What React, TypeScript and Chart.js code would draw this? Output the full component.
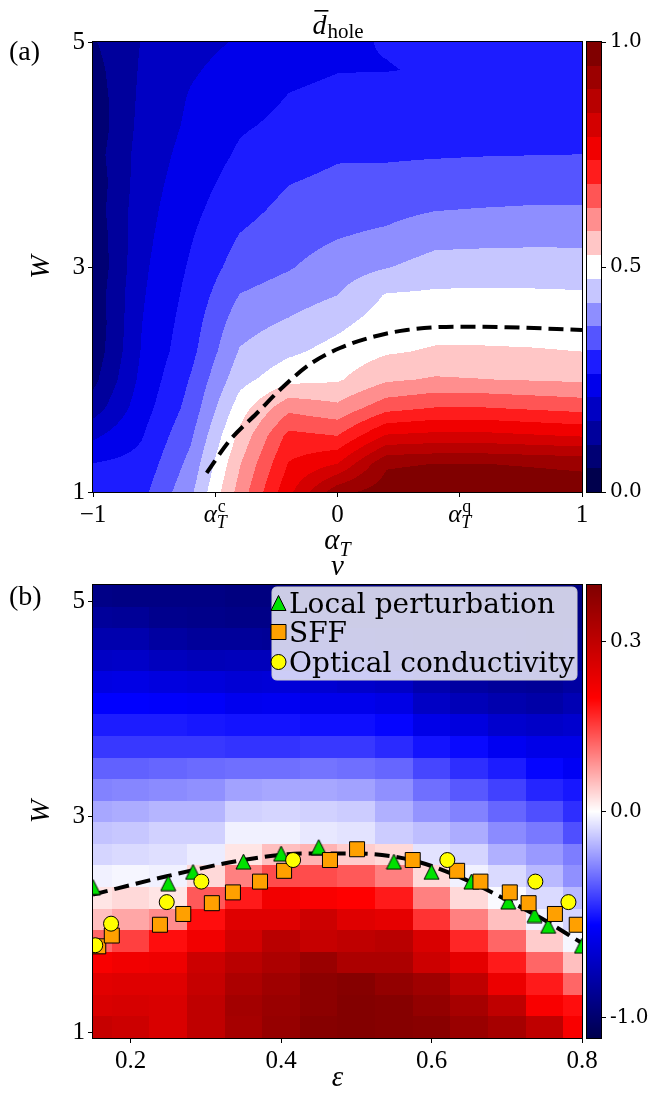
import React, { useEffect, useRef } from "react";
import { Chart, registerables } from "chart.js";

Chart.register(...registerables);

// ================= Panel (a): mean hole density (filled contour) =================
const alphaValues = [-1, -0.8, -0.6, -0.4, -0.2, 0, 0.2, 0.4, 0.6, 0.8, 1];
const wValuesA = [1, 1.25, 1.5, 1.75, 2, 2.25, 2.5, 2.75, 3, 3.25, 3.5, 3.75, 4, 4.25, 4.5, 4.75, 5];
// d_hole along W (W = 1 ... 5) for each alpha_T column
const dHoleAlphaM10 = [0.29, 0.265, 0.2, 0.13, 0.09, 0.07, 0.065, 0.07, 0.06, 0.065, 0.075, 0.07, 0.08, 0.07, 0.075, 0.085, 0.1];
const dHoleAlphaM08 = [0.3, 0.28, 0.26, 0.24, 0.225, 0.215, 0.21, 0.205, 0.2, 0.195, 0.19, 0.185, 0.18, 0.175, 0.17, 0.165, 0.16];
const dHoleAlphaM06 = [0.41, 0.385, 0.36, 0.335, 0.32, 0.3, 0.29, 0.28, 0.27, 0.26, 0.25, 0.24, 0.23, 0.22, 0.215, 0.205, 0.195];
const dHoleAlphaM04 = [0.6, 0.575, 0.54, 0.5, 0.455, 0.425, 0.4, 0.37, 0.34, 0.32, 0.3, 0.285, 0.27, 0.258, 0.245, 0.23, 0.215];
const dHoleAlphaM02 = [0.775, 0.74, 0.7, 0.616, 0.51, 0.463, 0.428, 0.394, 0.364, 0.347, 0.33, 0.314, 0.293, 0.274, 0.265, 0.255, 0.25];
const dHoleAlphaP00 = [0.93, 0.79, 0.684, 0.592, 0.52, 0.493, 0.461, 0.421, 0.395, 0.368, 0.348, 0.328, 0.31, 0.285, 0.272, 0.262, 0.258];
const dHoleAlphaP02 = [0.975, 0.94, 0.795, 0.665, 0.57, 0.52, 0.5, 0.478, 0.418, 0.38, 0.355, 0.33, 0.31, 0.292, 0.282, 0.262, 0.265];
const dHoleAlphaP04 = [0.99, 0.948, 0.805, 0.685, 0.585, 0.532, 0.505, 0.482, 0.445, 0.405, 0.368, 0.337, 0.312, 0.298, 0.288, 0.266, 0.27];
const dHoleAlphaP06 = [0.99, 0.948, 0.805, 0.685, 0.58, 0.532, 0.505, 0.483, 0.447, 0.408, 0.372, 0.34, 0.314, 0.3, 0.29, 0.282, 0.278];
const dHoleAlphaP08 = [0.985, 0.942, 0.795, 0.675, 0.575, 0.53, 0.503, 0.482, 0.447, 0.41, 0.375, 0.343, 0.315, 0.302, 0.292, 0.285, 0.28];
const dHoleAlphaP10 = [0.98, 0.935, 0.785, 0.665, 0.57, 0.526, 0.5, 0.48, 0.445, 0.41, 0.375, 0.345, 0.316, 0.302, 0.292, 0.286, 0.282];
const dHoleColumns = [
  dHoleAlphaM10, dHoleAlphaM08, dHoleAlphaM06, dHoleAlphaM04, dHoleAlphaM02, dHoleAlphaP00,
  dHoleAlphaP02, dHoleAlphaP04, dHoleAlphaP06, dHoleAlphaP08, dHoleAlphaP10,
];
const contourBands = 19;
const cbTicksA = [0, 0.5, 1];
const xTicksA = [-1, -0.5, 0, 0.5, 1];
const xTickBaseA = ["−1", "α", "0", "α", "1"];
const xTickSubA = ["", "T", "", "T", ""];
const xTickSupA = ["", "c", "", "q", ""];
const yTicksA = [1, 3, 5];
// dashed critical line
const critAlpha = [-0.535, -0.44, -0.33, -0.22, -0.11, 0.01, 0.146, 0.283, 0.487, 0.692, 1.0];
const critW = [1.17, 1.46, 1.7, 1.94, 2.14, 2.28, 2.38, 2.44, 2.47, 2.465, 2.44];

// ================= Panel (b): nu heat map =================
const epsValues = [0.15, 0.2, 0.25, 0.3, 0.35, 0.4, 0.45, 0.5, 0.55, 0.6, 0.65, 0.7, 0.75, 0.8];
const wValuesB = [1.05, 1.25, 1.45, 1.65, 1.85, 2.05, 2.25, 2.45, 2.65, 2.85, 3.05, 3.25, 3.45, 3.65, 3.85, 4.05, 4.25, 4.45, 4.65, 4.85, 5.05];
const nuEps015 = [0.29, 0.26, 0.245, 0.21, 0.12, 0.05, 0.02, -0.03, -0.09, -0.13, -0.19, -0.27, -0.34, -0.43, -0.49, -0.55, -0.64, -0.73, -0.8, -0.86, -0.92];
const nuEps020 = [0.28, 0.265, 0.25, 0.22, 0.15, 0.07, 0.03, -0.02, -0.08, -0.12, -0.18, -0.26, -0.34, -0.43, -0.49, -0.55, -0.63, -0.72, -0.8, -0.87, -0.93];
const nuEps025 = [0.26, 0.26, 0.25, 0.225, 0.19, 0.09, 0.02, -0.03, -0.07, -0.1, -0.16, -0.25, -0.33, -0.43, -0.49, -0.56, -0.65, -0.75, -0.84, -0.9, -0.93];
const nuEps030 = [0.3, 0.3, 0.29, 0.28, 0.22, 0.19, 0.13, 0.03, -0.04, -0.1, -0.16, -0.24, -0.32, -0.43, -0.5, -0.57, -0.66, -0.77, -0.86, -0.91, -0.93];
const nuEps035 = [0.34, 0.345, 0.33, 0.31, 0.27, 0.25, 0.18, 0.1, 0.02, -0.03, -0.1, -0.2, -0.31, -0.44, -0.51, -0.6, -0.68, -0.76, -0.86, -0.92, -0.94];
const nuEps040 = [0.365, 0.36, 0.35, 0.33, 0.31, 0.25, 0.22, 0.14, 0.05, -0.03, -0.09, -0.19, -0.31, -0.44, -0.51, -0.59, -0.67, -0.76, -0.87, -0.92, -0.94];
const nuEps045 = [0.39, 0.38, 0.38, 0.36, 0.29, 0.28, 0.21, 0.14, 0.06, -0.05, -0.1, -0.19, -0.3, -0.43, -0.52, -0.61, -0.69, -0.78, -0.86, -0.91, -0.93];
const nuEps050 = [0.395, 0.395, 0.39, 0.33, 0.3, 0.25, 0.2, 0.13, 0.04, -0.06, -0.11, -0.2, -0.31, -0.43, -0.52, -0.61, -0.71, -0.8, -0.88, -0.92, -0.94];
const nuEps055 = [0.39, 0.39, 0.37, 0.33, 0.31, 0.24, 0.18, 0.1, 0.03, -0.11, -0.17, -0.24, -0.33, -0.46, -0.54, -0.63, -0.73, -0.82, -0.89, -0.92, -0.94];
const nuEps060 = [0.385, 0.37, 0.35, 0.28, 0.26, 0.16, 0.1, 0.03, -0.06, -0.14, -0.23, -0.31, -0.4, -0.51, -0.62, -0.73, -0.8, -0.86, -0.9, -0.92, -0.94];
const nuEps065 = [0.36, 0.34, 0.3, 0.24, 0.17, 0.1, 0.03, -0.03, -0.09, -0.18, -0.27, -0.36, -0.45, -0.53, -0.65, -0.77, -0.84, -0.88, -0.91, -0.93, -0.94];
const nuEps070 = [0.34, 0.3, 0.23, 0.18, 0.12, 0.05, -0.01, -0.08, -0.17, -0.25, -0.33, -0.41, -0.49, -0.59, -0.7, -0.8, -0.86, -0.89, -0.91, -0.93, -0.94];
const nuEps075 = [0.3, 0.21, 0.18, 0.12, 0.04, -0.03, -0.08, -0.15, -0.22, -0.29, -0.38, -0.47, -0.54, -0.62, -0.72, -0.82, -0.87, -0.9, -0.92, -0.93, -0.94];
const nuEps080 = [0.21, 0.19, 0.12, 0.05, -0.02, -0.09, -0.15, -0.24, -0.28, -0.38, -0.45, -0.5, -0.58, -0.62, -0.7, -0.78, -0.84, -0.88, -0.91, -0.93, -0.94];
const nuColumns = [
  nuEps015, nuEps020, nuEps025, nuEps030, nuEps035, nuEps040, nuEps045,
  nuEps050, nuEps055, nuEps060, nuEps065, nuEps070, nuEps075, nuEps080,
];
const nuNormMin = -1.1;
const nuNormCenter = 0;
const nuNormMax = 0.4;
const cbTicksB = [-1.0, 0.0, 0.3];
const xRangeB = [0.15, 0.8];
const yRangeB = [0.95, 5.15];
const xTicksB = [0.2, 0.4, 0.6, 0.8];
const yTicksB = [1, 3, 5];

const localPertEps = [0.15, 0.25, 0.283, 0.35, 0.4, 0.45, 0.55, 0.6, 0.653, 0.702, 0.737, 0.755, 0.8];
const localPertW = [2.35, 2.385, 2.49, 2.585, 2.66, 2.72, 2.585, 2.49, 2.4, 2.215, 2.09, 1.99, 1.806];
const sffEps = [0.157, 0.175, 0.239, 0.27, 0.308, 0.336, 0.372, 0.404, 0.465, 0.501, 0.575, 0.634, 0.665, 0.704, 0.729, 0.764, 0.793];
const sffW = [1.8, 1.9, 2.0, 2.1, 2.2, 2.3, 2.4, 2.5, 2.6, 2.7, 2.6, 2.5, 2.4, 2.3, 2.2, 2.1, 2.0];
const optEps = [0.153, 0.174, 0.248, 0.294, 0.416, 0.621, 0.738, 0.782];
const optW = [1.81, 2.01, 2.21, 2.4, 2.6, 2.6, 2.4, 2.21];
const boundaryEps = [0.15, 0.248, 0.35, 0.43, 0.5, 0.573, 0.635, 0.7, 0.746, 0.8];
const boundaryW = [2.28, 2.45, 2.6, 2.66, 2.66, 2.6, 2.45, 2.23, 2.06, 1.83];
const legendLabels = ["Local perturbation", "SFF", "Optical conductivity"];

// ================= helpers =================
const SERIF = '"Liberation Serif", "Times New Roman", serif';
const DVSERIF = '"DejaVu Serif", serif';
const GREEN = "rgb(0,225,0)";
const ORANGE = "rgb(255,160,0)";
const YELLOW = "rgb(255,255,0)";

function seismic(t: number): [number, number, number] {
  const u = Math.min(1, Math.max(0, t));
  if (u < 0.25) { const s = u / 0.25; return [0, 0, 255 * (0.3 + 0.7 * s)]; }
  if (u < 0.5) { const s = (u - 0.25) / 0.25; return [255 * s, 255 * s, 255]; }
  if (u < 0.75) { const s = (u - 0.5) / 0.25; return [255, 255 * (1 - s), 255 * (1 - s)]; }
  const s = (u - 0.75) / 0.25;
  return [255 * (1 - 0.5 * s), 0, 0];
}
function rgb(c: [number, number, number]) {
  return `rgb(${Math.round(c[0])},${Math.round(c[1])},${Math.round(c[2])})`;
}
function normNu(v: number) {
  return v < nuNormCenter
    ? 0.5 * (v - nuNormMin) / (nuNormCenter - nuNormMin)
    : 0.5 + 0.5 * (v - nuNormCenter) / (nuNormMax - nuNormCenter);
}
function fracIndex(arr: number[], v: number) {
  const n = arr.length;
  if (v <= arr[0]) return 0;
  if (v >= arr[n - 1]) return n - 1;
  let i = 0;
  while (i < n - 2 && arr[i + 1] <= v) i++;
  return i + (v - arr[i]) / (arr[i + 1] - arr[i]);
}
function cellEdges(centers: number[], i: number): [number, number] {
  const lo = i === 0 ? centers[0] - (centers[1] - centers[0]) / 2 : (centers[i - 1] + centers[i]) / 2;
  const n = centers.length;
  const hi = i === n - 1 ? centers[n - 1] + (centers[n - 1] - centers[n - 2]) / 2 : (centers[i] + centers[i + 1]) / 2;
  return [lo, hi];
}
function makeTriangle(size: number, fill: string) {
  const c = document.createElement("canvas");
  const s = size + 2;
  c.width = s; c.height = s;
  const g = c.getContext("2d")!;
  g.beginPath();
  g.moveTo(s / 2, 1);
  g.lineTo(s - 1, s - 1);
  g.lineTo(1, s - 1);
  g.closePath();
  g.fillStyle = fill; g.fill();
  g.lineWidth = 1; g.strokeStyle = "#000"; g.stroke();
  return c;
}

const framePlugin = {
  id: "frame",
  afterDatasetsDraw(chart: any) {
    const { ctx, chartArea: ca } = chart;
    ctx.save();
    ctx.strokeStyle = "#000";
    ctx.lineWidth = 1;
    ctx.strokeRect(Math.round(ca.left) - 0.5, Math.round(ca.top) - 0.5, Math.round(ca.right - ca.left) + 1, Math.round(ca.bottom - ca.top) + 1);
    ctx.restore();
  },
};

const contourPlugin = {
  id: "contourA",
  beforeDatasetsDraw(chart: any) {
    const { ctx, chartArea: ca, scales } = chart;
    const xs = scales.x, ys = scales.y;
    const w = Math.round(ca.right - ca.left), h = Math.round(ca.bottom - ca.top);
    const off = document.createElement("canvas");
    off.width = w; off.height = h;
    const octx = off.getContext("2d")!;
    const img = octx.createImageData(w, h);
    const colors = Array.from({ length: contourBands }, (_, i) => seismic(i / (contourBands - 1)));
    const fxs = new Float64Array(w);
    for (let i = 0; i < w; i++) fxs[i] = fracIndex(alphaValues, xs.getValueForPixel(ca.left + i + 0.5));
    const nA = alphaValues.length, nW = wValuesA.length;
    for (let j = 0; j < h; j++) {
      const fy = fracIndex(wValuesA, ys.getValueForPixel(ca.top + j + 0.5));
      const j0 = Math.min(Math.floor(fy), nW - 2);
      const ty = fy - j0;
      for (let i = 0; i < w; i++) {
        const fx = fxs[i];
        const i0 = Math.min(Math.floor(fx), nA - 2);
        const tx = fx - i0;
        const c0 = dHoleColumns[i0], c1 = dHoleColumns[i0 + 1];
        const v = (1 - tx) * ((1 - ty) * c0[j0] + ty * c0[j0 + 1]) + tx * ((1 - ty) * c1[j0] + ty * c1[j0 + 1]);
        const b = Math.max(0, Math.min(contourBands - 1, Math.floor(v * contourBands)));
        const col = colors[b];
        const k = (j * w + i) * 4;
        img.data[k] = col[0]; img.data[k + 1] = col[1]; img.data[k + 2] = col[2]; img.data[k + 3] = 255;
      }
    }
    octx.putImageData(img, 0, 0);
    ctx.drawImage(off, Math.round(ca.left), Math.round(ca.top));
  },
};

const heatmapPlugin = {
  id: "heatmapB",
  beforeDatasetsDraw(chart: any) {
    const { ctx, chartArea: ca, scales } = chart;
    ctx.save();
    ctx.beginPath();
    ctx.rect(ca.left, ca.top, ca.right - ca.left, ca.bottom - ca.top);
    ctx.clip();
    for (let ci = 0; ci < epsValues.length; ci++) {
      const [elo, ehi] = cellEdges(epsValues, ci);
      const x0 = Math.round(scales.x.getPixelForValue(elo));
      const x1 = Math.round(scales.x.getPixelForValue(ehi));
      for (let ri = 0; ri < wValuesB.length; ri++) {
        const [wlo, whi] = cellEdges(wValuesB, ri);
        const y0 = Math.round(scales.y.getPixelForValue(whi));
        const y1 = Math.round(scales.y.getPixelForValue(wlo));
        ctx.fillStyle = rgb(seismic(normNu(nuColumns[ci][ri])));
        ctx.fillRect(x0, y0, x1 - x0, y1 - y0);
      }
    }
    ctx.restore();
  },
};

function drawScripted(ctx: CanvasRenderingContext2D, base: string, sub: string, sup: string, cx: number, baseline: number, size: number, italicBase: boolean) {
  const scr = Math.round(size * 0.7);
  const baseFont = `${italicBase ? "italic " : ""}${size}px ${SERIF}`;
  ctx.font = baseFont;
  const wb = ctx.measureText(base).width;
  ctx.font = `italic ${scr}px ${SERIF}`;
  const ws = sub ? ctx.measureText(sub).width : 0;
  ctx.font = `${scr}px ${SERIF}`;
  const wp = sup ? ctx.measureText(sup).width : 0;
  const total = wb + Math.max(ws, wp);
  const x0 = cx - total / 2;
  ctx.textAlign = "left";
  ctx.textBaseline = "alphabetic";
  ctx.font = baseFont;
  ctx.fillText(base, x0, baseline);
  if (sub) { ctx.font = `italic ${scr}px ${SERIF}`; ctx.fillText(sub, x0 + wb, baseline + size * 0.25); }
  if (sup) { ctx.font = `${scr}px ${SERIF}`; ctx.fillText(sup, x0 + wb + 1, baseline - size * 0.42); }
}

function drawRotatedW(ctx: CanvasRenderingContext2D, x: number, y: number) {
  ctx.save();
  ctx.translate(x, y);
  ctx.rotate(-Math.PI / 2);
  ctx.font = `italic 28px ${SERIF}`;
  ctx.textAlign = "center";
  ctx.textBaseline = "middle";
  ctx.fillText("W", 0, 0);
  ctx.restore();
}

const textAPlugin = {
  id: "textA",
  afterDraw(chart: any) {
    const { ctx, chartArea: ca, scales } = chart;
    ctx.save();
    ctx.fillStyle = "#000";
    xTicksA.forEach((v, i) => {
      const px = scales.x.getPixelForValue(v);
      drawScripted(ctx, xTickBaseA[i], xTickSubA[i], xTickSupA[i], px, ca.bottom + 30, 25, xTickSubA[i] !== "");
    });
    drawScripted(ctx, "α", "T", "", (ca.left + ca.right) / 2, ca.bottom + 57, 29, true);
    const cx = (ca.left + ca.right) / 2;
    const dFont = `italic 28px ${SERIF}`, hFont = `21px ${SERIF}`;
    ctx.font = dFont;
    const wd = ctx.measureText("d").width;
    ctx.font = hFont;
    const wh = ctx.measureText("hole").width;
    const x0 = cx - (wd + wh) / 2;
    ctx.textAlign = "left";
    ctx.textBaseline = "alphabetic";
    ctx.font = dFont;
    ctx.fillText("d", x0, 34);
    ctx.fillRect(x0 + 2, 10, wd, 1.6);
    ctx.font = hFont;
    ctx.fillText("hole", x0 + wd + 1, 38);
    ctx.font = `28px ${SERIF}`;
    ctx.fillText("(a)", 9, 60);
    drawRotatedW(ctx, 42, (ca.top + ca.bottom) / 2);
    ctx.restore();
  },
};

const textBPlugin = {
  id: "textB",
  afterDraw(chart: any) {
    const { ctx, chartArea: ca } = chart;
    ctx.save();
    ctx.fillStyle = "#000";
    ctx.textAlign = "center";
    ctx.textBaseline = "alphabetic";
    ctx.font = `italic 29px ${SERIF}`;
    ctx.fillText("ν", (ca.left + ca.right) / 2, 25);
    ctx.fillText("ε", (ca.left + ca.right) / 2, ca.bottom + 48);
    ctx.textAlign = "left";
    ctx.font = `28px ${SERIF}`;
    ctx.fillText("(b)", 9, 55);
    drawRotatedW(ctx, 42, (ca.top + ca.bottom) / 2);
    ctx.restore();
  },
};

const legendPlugin = {
  id: "legendB",
  afterDatasetsDraw(chart: any) {
    const { ctx, chartArea: ca } = chart;
    const bx = ca.right - 310, by = ca.top + 2, bw = 305, bh = 93, r = 5;
    ctx.save();
    ctx.beginPath();
    ctx.moveTo(bx + r, by);
    ctx.lineTo(bx + bw - r, by);
    ctx.quadraticCurveTo(bx + bw, by, bx + bw, by + r);
    ctx.lineTo(bx + bw, by + bh - r);
    ctx.quadraticCurveTo(bx + bw, by + bh, bx + bw - r, by + bh);
    ctx.lineTo(bx + r, by + bh);
    ctx.quadraticCurveTo(bx, by + bh, bx, by + bh - r);
    ctx.lineTo(bx, by + r);
    ctx.quadraticCurveTo(bx, by, bx + r, by);
    ctx.closePath();
    ctx.fillStyle = "rgba(255,255,255,0.8)";
    ctx.fill();
    ctx.strokeStyle = "rgb(204,204,204)";
    ctx.lineWidth = 1;
    ctx.stroke();
    const mx = bx + 6.5;
    const rows = [by + 16, by + 45, by + 75];
    ctx.strokeStyle = "#000";
    ctx.lineWidth = 1;
    ctx.beginPath();
    ctx.moveTo(mx, rows[0] - 7.5);
    ctx.lineTo(mx + 7.5, rows[0] + 7.5);
    ctx.lineTo(mx - 7.5, rows[0] + 7.5);
    ctx.closePath();
    ctx.fillStyle = GREEN; ctx.fill(); ctx.stroke();
    ctx.beginPath();
    ctx.rect(mx - 7.5, rows[1] - 7.5, 15, 15);
    ctx.fillStyle = ORANGE; ctx.fill(); ctx.stroke();
    ctx.beginPath();
    ctx.arc(mx, rows[2], 7.5, 0, Math.PI * 2);
    ctx.fillStyle = YELLOW; ctx.fill(); ctx.stroke();
    ctx.fillStyle = "#000";
    ctx.font = `28px ${DVSERIF}`;
    ctx.textAlign = "left";
    ctx.textBaseline = "alphabetic";
    legendLabels.forEach((t, i) => ctx.fillText(t, bx + 17, rows[i] + 10));
    ctx.restore();
  },
};

function colorbarPlugin(kind: "a" | "b") {
  return {
    id: "colorbar" + kind,
    beforeDatasetsDraw(chart: any) {
      const { ctx, chartArea: ca, scales } = chart;
      const y = scales.y;
      ctx.save();
      if (kind === "a") {
        for (let i = 0; i < contourBands; i++) {
          const y0 = Math.round(y.getPixelForValue((i + 1) / contourBands));
          const y1 = Math.round(y.getPixelForValue(i / contourBands));
          ctx.fillStyle = rgb(seismic(i / (contourBands - 1)));
          ctx.fillRect(ca.left, y0, ca.right - ca.left, y1 - y0);
        }
      } else {
        for (let py = Math.round(ca.top); py < Math.round(ca.bottom); py++) {
          ctx.fillStyle = rgb(seismic(y.getValueForPixel(py + 0.5)));
          ctx.fillRect(ca.left, py, ca.right - ca.left, 1);
        }
      }
      ctx.strokeStyle = "#000";
      ctx.lineWidth = 1;
      ctx.strokeRect(Math.round(ca.left) + 0.5, Math.round(ca.top) - 0.5, Math.round(ca.right - ca.left) - 1, Math.round(ca.bottom - ca.top) + 1);
      ctx.restore();
    },
  };
}

const tickFont = { family: SERIF, size: 25 };
const gridOpts = { display: true, drawOnChartArea: false, drawTicks: true, tickLength: 5, color: "#000", lineWidth: 1 };
const baseOptions = {
  responsive: false,
  animation: false,
  devicePixelRatio: 1,
  events: [] as any[],
  plugins: { legend: { display: false }, tooltip: { enabled: false }, title: { display: false } },
};

function colorbarChart(canvas: HTMLCanvasElement, kind: "a" | "b", top: number, bottom: number) {
  const tickVals = kind === "a" ? cbTicksA : cbTicksB;
  return new Chart(canvas, {
    type: "scatter",
    data: { datasets: [] },
    options: {
      ...baseOptions,
      layout: { padding: { left: 0, right: 0, top, bottom } },
      scales: {
        x: { display: false, min: 0, max: 1 },
        y: {
          position: "right",
          min: 0,
          max: 1,
          afterBuildTicks: (s: any) => { s.ticks = tickVals.map((v) => ({ value: kind === "a" ? v : normNu(v) })); },
          afterFit: (s: any) => { s.width = 63; },
          ticks: {
            callback: (_v: any, i: number) => tickVals[i].toFixed(1),
            font: { family: DVSERIF, size: 20 },
            color: "#000",
            padding: 4,
            autoSkip: false,
          },
          grid: { display: true, drawOnChartArea: false, drawTicks: true, tickLength: 4, color: "#000", lineWidth: 1 },
          border: { display: false },
        },
      },
    } as any,
    plugins: [colorbarPlugin(kind)],
  });
}

export default function App() {
  const aRef = useRef<HTMLCanvasElement>(null);
  const aCbRef = useRef<HTMLCanvasElement>(null);
  const bRef = useRef<HTMLCanvasElement>(null);
  const bCbRef = useRef<HTMLCanvasElement>(null);

  useEffect(() => {
    const charts: Chart[] = [];
    charts.push(
      new Chart(aRef.current!, {
        type: "scatter",
        data: {
          datasets: [
            {
              data: critAlpha.map((a, i) => ({ x: a, y: critW[i] })),
              showLine: true,
              borderColor: "#000",
              borderWidth: 4,
              borderDash: [15, 7],
              pointRadius: 0,
              cubicInterpolationMode: "monotone",
              fill: false,
              clip: 0,
            },
          ],
        },
        options: {
          ...baseOptions,
          layout: { padding: { left: 25, right: 83, top: 42, bottom: 0 } },
          scales: {
            x: {
              type: "linear", min: -1, max: 1,
              afterBuildTicks: (s: any) => { s.ticks = xTicksA.map((v) => ({ value: v })); },
              afterFit: (s: any) => { s.height = 74; },
              ticks: { callback: () => "", font: tickFont, padding: 3, autoSkip: false, maxRotation: 0 },
              grid: gridOpts,
              border: { display: false },
            },
            y: {
              type: "linear", min: 1, max: 5,
              afterBuildTicks: (s: any) => { s.ticks = yTicksA.map((v) => ({ value: v })); },
              afterFit: (s: any) => { s.width = 68; },
              ticks: { callback: (v: any) => String(v), font: tickFont, color: "#000", padding: 3, autoSkip: false },
              grid: gridOpts,
              border: { display: false },
            },
          },
        } as any,
        plugins: [contourPlugin, framePlugin, textAPlugin],
      })
    );
    charts.push(colorbarChart(aCbRef.current!, "a", 42, 74));

    const tri = makeTriangle(15, GREEN);
    charts.push(
      new Chart(bRef.current!, {
        type: "scatter",
        data: {
          datasets: [
            {
              data: boundaryEps.map((e, i) => ({ x: e, y: boundaryW[i] })),
              showLine: true, borderColor: "#000", borderWidth: 4, borderDash: [15, 7], pointRadius: 0,
              cubicInterpolationMode: "monotone", fill: false, clip: 0, order: 4,
            },
            {
              data: localPertEps.map((e, i) => ({ x: e, y: localPertW[i] })),
              pointStyle: tri, pointRadius: 8, clip: 0, order: 3,
            },
            {
              data: sffEps.map((e, i) => ({ x: e, y: sffW[i] })),
              pointStyle: "rect", pointRadius: 10.6, backgroundColor: ORANGE, borderColor: "#000", borderWidth: 1, clip: 0, order: 2,
            },
            {
              data: optEps.map((e, i) => ({ x: e, y: optW[i] })),
              pointStyle: "circle", pointRadius: 7.5, backgroundColor: YELLOW, borderColor: "#000", borderWidth: 1, clip: 0, order: 1,
            },
          ],
        },
        options: {
          ...baseOptions,
          layout: { padding: { left: 25, right: 83, top: 35, bottom: 0 } },
          scales: {
            x: {
              type: "linear", min: xRangeB[0], max: xRangeB[1],
              afterBuildTicks: (s: any) => { s.ticks = xTicksB.map((v) => ({ value: v })); },
              afterFit: (s: any) => { s.height = 57; },
              ticks: { callback: (v: any) => Number(v).toFixed(1), font: tickFont, color: "#000", padding: 3, autoSkip: false, maxRotation: 0 },
              grid: gridOpts,
              border: { display: false },
            },
            y: {
              type: "linear", min: yRangeB[0], max: yRangeB[1],
              afterBuildTicks: (s: any) => { s.ticks = yTicksB.map((v) => ({ value: v })); },
              afterFit: (s: any) => { s.width = 68; },
              ticks: { callback: (v: any) => String(v), font: tickFont, color: "#000", padding: 3, autoSkip: false },
              grid: gridOpts,
              border: { display: false },
            },
          },
        } as any,
        plugins: [heatmapPlugin, legendPlugin, framePlugin, textBPlugin],
      })
    );
    charts.push(colorbarChart(bCbRef.current!, "b", 35, 57));

    return () => {
      charts.forEach((c) => c.destroy());
    };
  }, []);

  return (
    <div style={{ position: "absolute", left: 0, top: 0, width: 665, height: 1095, background: "#fff", overflow: "hidden" }}>
      <canvas ref={aRef} width={665} height={566} style={{ position: "absolute", left: 0, top: 0, width: 665, height: 566 }} />
      <canvas ref={bRef} width={665} height={545} style={{ position: "absolute", left: 0, top: 550, width: 665, height: 545 }} />
      <canvas ref={aCbRef} width={79} height={566} style={{ position: "absolute", left: 586, top: 0, width: 79, height: 566 }} />
      <canvas ref={bCbRef} width={79} height={545} style={{ position: "absolute", left: 586, top: 550, width: 79, height: 545 }} />
    </div>
  );
}
